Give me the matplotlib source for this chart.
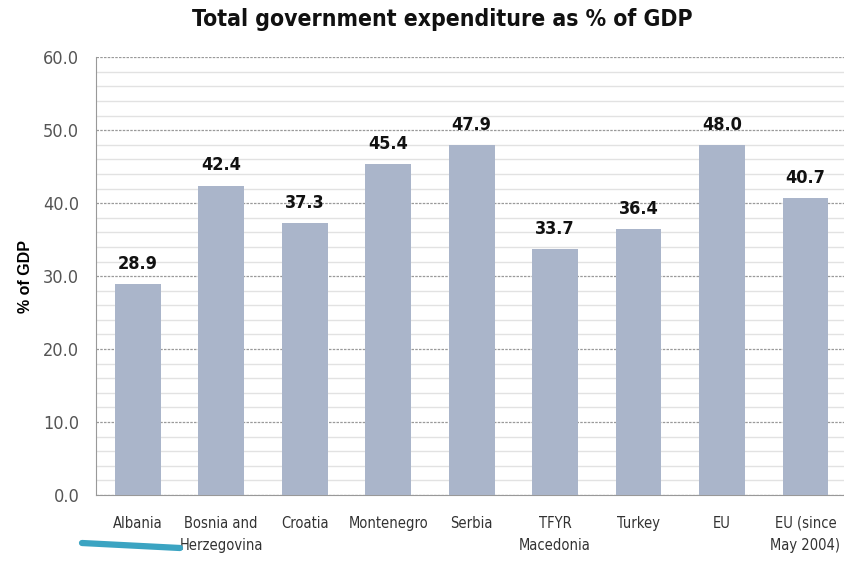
import numpy as np
import matplotlib
matplotlib.use("Agg")
import matplotlib.pyplot as plt
from matplotlib.lines import Line2D

countries = ["Albania", "Bosnia and\nHerzegovina", "Croatia", "Montenegro", "Serbia",
             "TFYR\nMacedonia", "Turkey", "EU", "EU (since\nMay 2004)"]
spending = [28.9, 42.4, 37.3, 45.4, 47.9, 33.7, 36.4, 48.0, 40.7]
y_ticks = [0, 10, 20, 30, 40, 50, 60]

cond = dict(family="DejaVu Sans", fontstretch="condensed")

fig = plt.figure(figsize=(8.45, 5.61), dpi=100)
ax = fig.add_axes([0.1136, 0.1176, 0.889, 0.7805])

x = np.arange(len(countries))
bars = ax.bar(x, spending, width=0.55, color="#AAB5CA", zorder=3)

ax.set_xlim(-0.5, len(countries) - 0.5)
ax.set_ylim(0, 60)
ax.set_yticks(y_ticks)
ax.set_yticklabels([f"{v:.1f}" for v in y_ticks], fontsize=13, color="#555555", **cond)
ax.set_yticks(np.arange(0, 61, 2), minor=True)
ax.set_xticks(x)
ax.set_xticklabels(countries, fontsize=10.5, color="#333333", linespacing=1.6, **cond)
ax.tick_params(axis="both", which="both", length=0)
ax.tick_params(axis="x", pad=15)
ax.tick_params(axis="y", pad=12)

ax.grid(axis="y", which="minor", color="#e2e2e2", linewidth=1.0, zorder=0)
ax.grid(axis="y", which="major", color="#9a9a9a", linewidth=0.9, linestyle=(0, (2, 1)), zorder=1)

for s in ["top", "right"]:
    ax.spines[s].set_visible(False)
ax.spines["left"].set_color("#999999")
ax.spines["bottom"].set_color("#999999")

for b, v in zip(bars, spending):
    ax.annotate(f"{v:.1f}", (b.get_x() + b.get_width() / 2, v), xytext=(0, 8),
                textcoords="offset points", ha="center", va="bottom",
                fontsize=13, fontweight="bold", color="#111111", **cond)

ax.set_ylabel("% of GDP", fontsize=11.5, fontweight="bold", family="Liberation Sans", labelpad=7)
fig.text(0.524, 0.966, "Total government expenditure as % of GDP", ha="center", va="center",
         fontsize=16.5, fontweight="bold", color="#111111", **cond)

# pen stroke under the first labels
fig.add_artist(Line2D([82 / 845, 180 / 845], [1 - 543 / 561, 1 - 548 / 561],
                      color="#3BA4C2", linewidth=4.5, solid_capstyle="round"))

fig.savefig("out.png", dpi=100)
